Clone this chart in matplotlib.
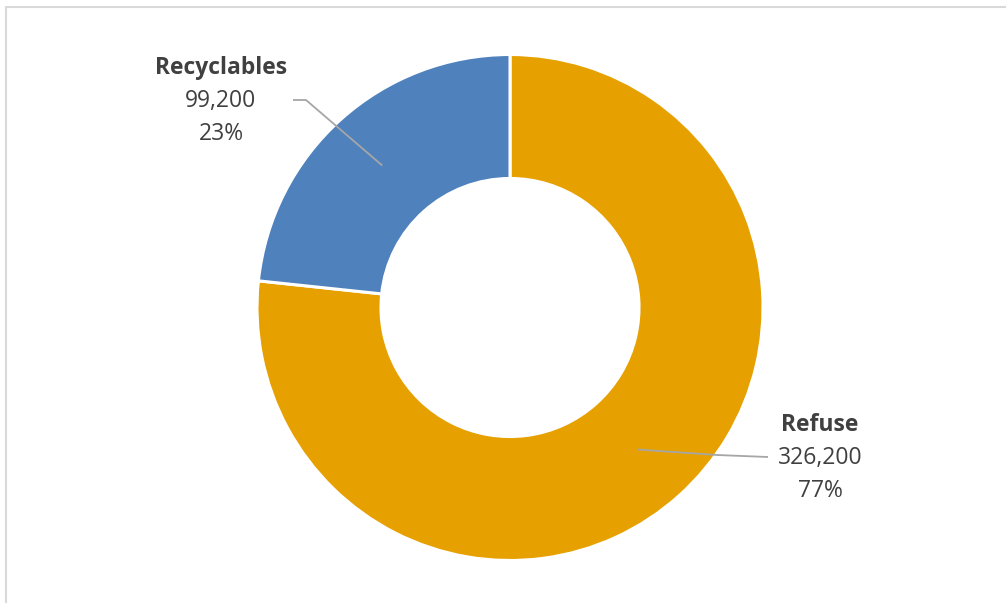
import numpy as np
import matplotlib.pyplot as plt
from matplotlib.patches import Rectangle

plt.rcParams['font.family'] = ['Open Sans', 'DejaVu Sans']

categories = ['Refuse', 'Recyclables']
tonnes = [326200, 99200]
colors = ['#E6A000', '#4F81BD']

W, H = 1006, 603
cx, cy = 510, H - 307.5
r_out = 253
ring = 0.49

fig = plt.figure(figsize=(W / 100, H / 100), dpi=100)
ax = fig.add_axes([0, 0, 1, 1])
ax.set_xlim(0, W)
ax.set_ylim(0, H)
ax.axis('off')

# chart area frame, cut off on the right and bottom
ax.add_patch(Rectangle((6.5, -10), W + 20, H - 6.5 + 10, fill=False,
                       edgecolor='#D9D9D9', linewidth=1.5))

wedges, _ = ax.pie(tonnes, colors=colors, startangle=90, counterclock=False,
                   center=(cx, cy), radius=r_out, frame=True,
                   wedgeprops=dict(width=r_out * ring, edgecolor='white', linewidth=2.2))
ax.set_xlim(0, W)
ax.set_ylim(0, H)
ax.axis('off')

total = sum(tonnes)
r_mid = r_out * (1 - ring / 2)

# label block positions (centre x, top line y) and leader line end points
label_pos = {'Refuse': (820, H - 425), 'Recyclables': (221, H - 68)}
leader_end = {'Refuse': [(717, H - 455), (768, H - 457)],
              'Recyclables': [(306, H - 100), (293, H - 100)]}

for w, name, val in zip(wedges, categories, tonnes):
    mid = np.deg2rad((w.theta1 + w.theta2) / 2)
    ax_pt = (cx + r_mid * np.cos(mid), cy + r_mid * np.sin(mid))
    pts = [ax_pt] + leader_end[name]
    ax.plot([p[0] for p in pts], [p[1] for p in pts], color='#A6A6A6', lw=1.3,
            solid_capstyle='butt', zorder=3)
    lx, ly = label_pos[name]
    ax.text(lx, ly, name, ha='center', va='center', fontsize=16.5,
            fontweight='bold', color='#404040')
    ax.text(lx, ly - 33, f'{val:,}', ha='center', va='center', fontsize=16.5,
            color='#404040')
    ax.text(lx, ly - 66, f'{val / total:.0%}', ha='center', va='center',
            fontsize=16.5, color='#404040')

fig.savefig('out.png', dpi=100, facecolor='white')
